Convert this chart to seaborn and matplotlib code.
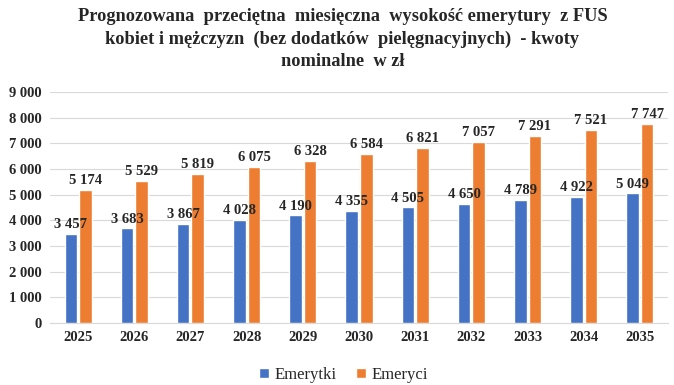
import matplotlib.pyplot as plt
import seaborn as sns
import pandas as pd

years = ["2025", "2026", "2027", "2028", "2029", "2030", "2031", "2032", "2033", "2034", "2035"]
emerytki = [3457, 3683, 3867, 4028, 4190, 4355, 4505, 4650, 4789, 4922, 5049]
emeryci = [5174, 5529, 5819, 6075, 6328, 6584, 6821, 7057, 7291, 7521, 7747]
y_ticks = list(range(0, 9001, 1000))

sns.set_style("white")
plt.rcParams['font.family'] = ['Liberation Serif', 'DejaVu Serif']

df = pd.DataFrame({
    "rok": years * 2,
    "kwota": emerytki + emeryci,
    "grupa": ["Emerytki"] * len(years) + ["Emeryci"] * len(years),
})

def fmt(v):
    return f"{v:,}".replace(",", " ")

fig = plt.figure(figsize=(6.74, 3.85), dpi=100)
ax = fig.add_axes([50 / 674, 62 / 385, 618 / 674, 231 / 385])

sns.barplot(data=df, x="rok", y="kwota", hue="grupa",
            palette=["#4472C4", "#ED7D31"], width=0.52, gap=0.14,
            saturation=1, ax=ax, zorder=3)

for cont in ax.containers:
    ax.bar_label(cont, labels=[fmt(int(b.get_height())) for b in cont],
                 padding=2, fontsize=10.5, fontweight="bold")

ax.set_ylim(0, 9000)
ax.set_xlim(-0.5, len(years) - 0.5)
ax.set_yticks(y_ticks)
ax.set_yticklabels([fmt(t) for t in y_ticks], fontsize=10.5, fontweight="bold")
ax.set_xticks(range(len(years)))
ax.set_xticklabels(years, fontsize=10.5, fontweight="bold")
ax.tick_params(length=0, pad=6)
ax.grid(axis="y", color="#d9d9d9", linewidth=0.8, zorder=0)
ax.set_xlabel("")
ax.set_ylabel("")
for s in ["top", "right", "left"]:
    ax.spines[s].set_visible(False)
ax.spines["bottom"].set_color("#d9d9d9")

ax.legend(loc="upper center", bbox_to_anchor=(0.475, -0.125), ncol=2, frameon=False,
          fontsize=12, handlelength=0.6, handleheight=0.6, handletextpad=0.3,
          columnspacing=1.2)

fig.suptitle("Prognozowana  przeciętna  miesięczna  wysokość emerytury  z FUS\n"
             "kobiet i mężczyzn  (bez dodatków  pielęgnacyjnych)  - kwoty\n"
             "nominalne  w zł",
             x=0.508, y=0.978, fontsize=13.2, fontweight="bold", linespacing=1.38)

fig.savefig("out.png", dpi=100)
